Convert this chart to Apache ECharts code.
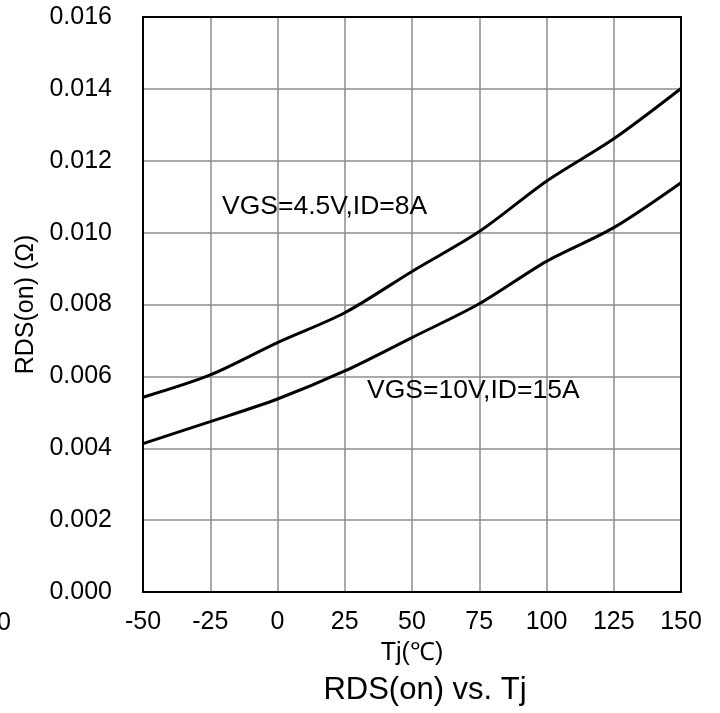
<!DOCTYPE html>
<html>
<head>
<meta charset="utf-8">
<script src="https://cdn.jsdelivr.net/npm/echarts@6/dist/echarts.min.js"></script>
<style>
  html, body { margin: 0; padding: 0; background: #fff; }
  #main { width: 720px; height: 713px; }
</style>
</head>
<body>
<div id="main"></div>
<script>
// junction temperature points (°C)
var tj = [-50, -25, 0, 25, 50, 75, 100, 125, 150];
// RDS(on) in ohm
var rds45 = [0.00542, 0.00604, 0.00694, 0.00777, 0.00892, 0.01003, 0.01143, 0.01261, 0.01401];
var rds10 = [0.00413, 0.00474, 0.00537, 0.00615, 0.00708, 0.00802, 0.00920, 0.01014, 0.01139];
var label45 = 'VGS=4.5V,ID=8A';
var label10 = 'VGS=10V,ID=15A';

var font = 'Liberation Sans, Arial, sans-serif';

function pairs(xs, ys) {
    return xs.map(function (x, i) { return [x, ys[i]]; });
}

var chart = echarts.init(document.getElementById('main'));

var lineStyle = { color: '#000', width: 3 };

chart.setOption({
    animation: false,
    grid: { left: 143, right: 39, top: 17, bottom: 121 },
    title: {
        text: 'RDS(on) vs. Tj',
        left: 420,
        top: 670,
        textAlign: 'center',
        textStyle: { fontFamily: font, fontSize: 31, fontWeight: 'normal', color: '#000' }
    },
    graphic: [{
        // stray label cut by the left edge of the original
        type: 'text',
        right: 709,
        top: 611,
        style: { text: '0', font: '25px ' + font, fill: '#000' }
    }],
    xAxis: [{
        type: 'value',
        min: -50,
        max: 150,
        interval: 25,
        name: 'Tj(℃)',
        nameLocation: 'middle',
        nameGap: 49,
        nameTextStyle: { fontFamily: font, fontSize: 25, color: '#000' },
        axisLine: { lineStyle: { color: '#000', width: 2 } },
        axisTick: { show: false },
        axisLabel: { fontFamily: font, fontSize: 25, color: '#000', margin: 18 },
        splitLine: { lineStyle: { color: '#8c8c8c', width: 1.5 } }
    }, {
        type: 'value',
        position: 'top',
        min: -50,
        max: 150,
        axisLine: { show: true, onZero: false, lineStyle: { color: '#000', width: 2 } },
        axisTick: { show: false },
        axisLabel: { show: false },
        splitLine: { show: false }
    }],
    yAxis: [{
        type: 'value',
        min: 0,
        max: 0.016,
        interval: 0.002,
        name: 'RDS(on) (Ω)',
        nameLocation: 'middle',
        nameGap: 103,
        nameTextStyle: { fontFamily: font, fontSize: 25, color: '#000' },
        axisLine: { show: true, onZero: false, lineStyle: { color: '#000', width: 2 } },
        axisTick: { show: false },
        axisLabel: {
            fontFamily: font, fontSize: 25, color: '#000', margin: 31,
            formatter: function (v) { return v.toFixed(3); }
        },
        splitLine: { lineStyle: { color: '#8c8c8c', width: 1.5 } }
    }, {
        type: 'value',
        position: 'right',
        min: 0,
        max: 0.016,
        axisLine: { show: true, onZero: false, lineStyle: { color: '#000', width: 2 } },
        axisTick: { show: false },
        axisLabel: { show: false },
        splitLine: { show: false }
    }],
    series: [{
        name: label45,
        type: 'line',
        smooth: 0.3,
        symbol: 'none',
        lineStyle: lineStyle,
        data: pairs(tj, rds45),
        markPoint: {
            symbol: 'circle',
            symbolSize: 0,
            label: {
                show: true, position: 'right', formatter: label45,
                fontFamily: font, fontSize: 26.5, color: '#000'
            },
            data: [{ coord: [-22.5, 0.01073] }]
        }
    }, {
        name: label10,
        type: 'line',
        smooth: 0.3,
        symbol: 'none',
        lineStyle: lineStyle,
        data: pairs(tj, rds10),
        markPoint: {
            symbol: 'circle',
            symbolSize: 0,
            label: {
                show: true, position: 'right', formatter: label10,
                fontFamily: font, fontSize: 26.5, color: '#000'
            },
            data: [{ coord: [31.4, 0.0056] }]
        }
    }]
});
</script>
</body>
</html>
